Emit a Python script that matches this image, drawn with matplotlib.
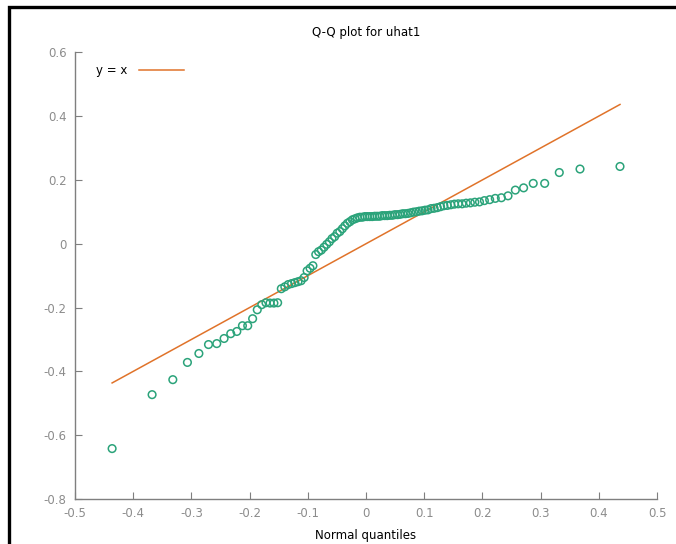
import matplotlib
matplotlib.use("Agg")
import matplotlib.pyplot as plt
from matplotlib.patches import Rectangle

# Cuantiles normales (eje x) y residuos ordenados (eje y)
normal_q = [-0.4363, -0.3676, -0.3320, -0.3069, -0.2872, -0.2707, -0.2565, -0.2439, -0.2325, -0.2220,
            -0.2124, -0.2033, -0.1949, -0.1869, -0.1792, -0.1720, -0.1650, -0.1583, -0.1519, -0.1456,
            -0.1396, -0.1337, -0.1280, -0.1224, -0.1169, -0.1116, -0.1064, -0.1013, -0.0962, -0.0913,
            -0.0864, -0.0816, -0.0769, -0.0722, -0.0676, -0.0630, -0.0585, -0.0540, -0.0495, -0.0451,
            -0.0407, -0.0364, -0.0320, -0.0277, -0.0234, -0.0191, -0.0149, -0.0106, -0.0064, -0.0021,
            0.0021, 0.0064, 0.0106, 0.0149, 0.0191, 0.0234, 0.0277, 0.0320, 0.0364, 0.0407,
            0.0451, 0.0495, 0.0540, 0.0585, 0.0630, 0.0676, 0.0722, 0.0769, 0.0816, 0.0864,
            0.0913, 0.0962, 0.1013, 0.1064, 0.1116, 0.1169, 0.1224, 0.1280, 0.1337, 0.1396,
            0.1456, 0.1519, 0.1583, 0.1650, 0.1720, 0.1792, 0.1869, 0.1949, 0.2033, 0.2124,
            0.2220, 0.2325, 0.2439, 0.2565, 0.2707, 0.2872, 0.3069, 0.3320, 0.3676, 0.4363]

uhat1 = [-0.642, -0.473, -0.426, -0.372, -0.344, -0.316, -0.313, -0.297, -0.282, -0.275,
         -0.257, -0.257, -0.235, -0.207, -0.191, -0.185, -0.186, -0.186, -0.185, -0.141,
         -0.135, -0.128, -0.125, -0.122, -0.119, -0.116, -0.106, -0.085, -0.077, -0.069,
         -0.034, -0.025, -0.020, -0.011, -0.002, 0.006, 0.016, 0.022, 0.033, 0.038,
         0.047, 0.056, 0.064, 0.069, 0.075, 0.078, 0.081, 0.083, 0.083, 0.085,
         0.085, 0.085, 0.085, 0.086, 0.086, 0.086, 0.088, 0.088, 0.088, 0.089,
         0.089, 0.091, 0.091, 0.092, 0.094, 0.094, 0.095, 0.097, 0.099, 0.100,
         0.102, 0.103, 0.105, 0.106, 0.110, 0.111, 0.113, 0.116, 0.119, 0.120,
         0.122, 0.124, 0.125, 0.125, 0.127, 0.128, 0.130, 0.131, 0.135, 0.138,
         0.142, 0.144, 0.150, 0.168, 0.175, 0.189, 0.189, 0.223, 0.234, 0.242]

x_ticks = [-0.5, -0.4, -0.3, -0.2, -0.1, 0, 0.1, 0.2, 0.3, 0.4, 0.5]
x_labels = ['-0.5', '-0.4', '-0.3', '-0.2', '-0.1', '0', '0.1', '0.2', '0.3', '0.4', '0.5']
y_ticks = [-0.8, -0.6, -0.4, -0.2, 0, 0.2, 0.4, 0.6]
y_labels = ['-0.8', '-0.6', '-0.4', '-0.2', '0', '0.2', '0.4', '0.6']

fig = plt.figure(figsize=(6.76, 5.44), dpi=100)
ax = fig.add_axes([0.111, 0.0827, 0.861, 0.8213])

# Marco negro exterior (solo izquierda y arriba visibles)
fig.patches.append(Rectangle((9 / 676, -0.1), 1.2, (544 - 7) / 544 + 0.1,
                             transform=fig.transFigure, fill=False,
                             edgecolor='black', linewidth=2.4))

ax.scatter(normal_q, uhat1, s=30, facecolors='none', edgecolors='#2ba37a',
           linewidths=1.1, zorder=3)
ax.plot([normal_q[0], normal_q[-1]], [normal_q[0], normal_q[-1]],
        color='#e0732a', linewidth=1.1, label='y = x', zorder=2)

ax.set_xlim(-0.5, 0.5)
ax.set_ylim(-0.8, 0.6)
ax.set_xticks(x_ticks)
ax.set_xticklabels(x_labels)
ax.set_yticks(y_ticks)
ax.set_yticklabels(y_labels)

for side in ['top', 'right']:
    ax.spines[side].set_visible(False)
for side in ['left', 'bottom']:
    ax.spines[side].set_color('#7f7f7f')
    ax.spines[side].set_linewidth(1.0)
ax.tick_params(direction='in', length=5, color='#7f7f7f', labelcolor='#8c8c8c',
               labelsize=8.5, pad=6)

ax.set_title('Q-Q plot for uhat1', fontsize=8.5, pad=12)
ax.set_xlabel('Normal quantiles', fontsize=8.5, labelpad=6)

ax.legend(loc='upper left', markerfirst=False, frameon=False, fontsize=8.5,
          handlelength=3.8, handletextpad=1.0, borderaxespad=0.6,
          bbox_to_anchor=(0.015, 1.0))

fig.savefig('out.png', dpi=100)
